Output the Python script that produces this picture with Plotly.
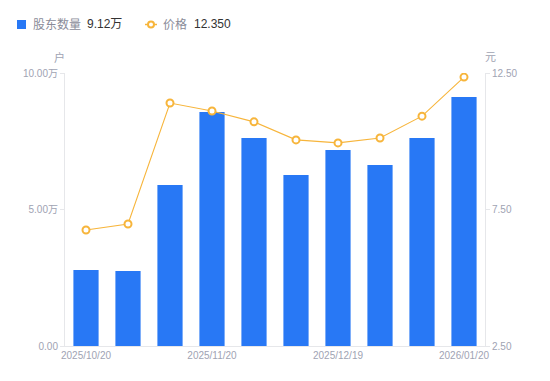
import plotly.graph_objects as go

dates = ["2025/10/20", "2025/10/31", "2025/11/10", "2025/11/20", "2025/11/28",
         "2025/12/10", "2025/12/19", "2025/12/31", "2026/01/09", "2026/01/20"]
holders_wan = [2.78, 2.75, 5.90, 8.57, 7.62, 6.26, 7.18, 6.63, 7.62, 9.12]
price = [6.75, 6.97, 11.40, 11.11, 10.71, 10.05, 9.94, 10.12, 10.92, 12.35]
x_tick_labels = ["2025/10/20", "2025/11/20", "2025/12/19", "2026/01/20"]
left_tickvals = [0, 5, 10]
left_ticktext = ["0.00", "5.00万", "10.00万"]
right_tickvals = [2.5, 7.5, 12.5]
right_ticktext = ["2.50", "7.50", "12.50"]

BLUE = "#2878f5"
ORANGE = "#f7b53b"
GRAY = "#a0a3b3"
LEG_GRAY = "#8a8c99"
DARK = "#333333"
AXIS = "#e6e7ea"
FONT = "Liberation Sans, Arial, Noto Sans CJK SC, sans-serif"

W, H = 550, 381
L, R, T, B = 65, 65, 73, 35
PW, PH = W - L - R, H - T - B


def px(x):
    return (x - L) / PW


def py(y):
    return (H - B - y) / PH


fig = go.Figure()
fig.add_trace(go.Bar(
    x=dates, y=holders_wan, name="股东数量",
    marker=dict(color=BLUE, line=dict(width=0)), width=0.6, yaxis="y",
))
fig.add_trace(go.Scatter(
    x=dates, y=price, name="价格",
    mode="lines+markers", yaxis="y2",
    line=dict(color=ORANGE, width=1.1),
    marker=dict(symbol="circle", size=7, color="white", line=dict(color=ORANGE, width=2)),
))

fig.update_layout(
    width=W, height=H,
    margin=dict(l=L, r=R, t=T, b=B, autoexpand=False),
    paper_bgcolor="white", plot_bgcolor="white",
    font=dict(family=FONT, size=10, color=GRAY),
    showlegend=False,
    bargap=0.4,
    xaxis=dict(type="category", tickmode="array", tickvals=x_tick_labels, ticktext=x_tick_labels,
               range=[-0.5, len(dates) - 0.5],
               showgrid=False, showline=True, linecolor=AXIS, linewidth=1,
               ticks="", tickfont=dict(size=10, color=GRAY), fixedrange=True, automargin=False),
    yaxis=dict(range=[0, 10], tickvals=left_tickvals, ticktext=left_ticktext,
               showgrid=False, showline=True, linecolor=AXIS, linewidth=1,
               ticks="outside", ticklen=4, tickcolor=AXIS, zeroline=False,
               tickfont=dict(size=10, color=GRAY), automargin=False),
    yaxis2=dict(range=[2.5, 12.5], tickvals=right_tickvals, ticktext=right_ticktext,
                overlaying="y", side="right", showgrid=False, showline=True,
                linecolor=AXIS, linewidth=1, ticks="outside", ticklen=4,
                tickcolor=AXIS, zeroline=False, tickfont=dict(size=10, color=GRAY),
                automargin=False),
)

# axis unit labels
fig.add_annotation(text="户", xref="paper", yref="paper", x=px(59), y=py(57),
                   showarrow=False, font=dict(size=11, color=GRAY), xanchor="center", yanchor="middle")
fig.add_annotation(text="元", xref="paper", yref="paper", x=px(490), y=py(57),
                   showarrow=False, font=dict(size=11, color=GRAY), xanchor="center", yanchor="middle")

# custom legend
LY = 24.5
fig.add_shape(type="rect", xref="paper", yref="paper",
              x0=px(17), x1=px(26), y0=py(LY - 4.5), y1=py(LY + 4.5),
              fillcolor=BLUE, line=dict(width=0))
fig.add_annotation(text="股东数量", xref="paper", yref="paper", x=px(31), y=py(LY),
                   showarrow=False, xanchor="left", yanchor="middle",
                   font=dict(size=12, color=LEG_GRAY))
fig.add_annotation(text="%.2f万" % holders_wan[-1], xref="paper", yref="paper", x=px(85), y=py(LY),
                   showarrow=False, xanchor="left", yanchor="middle",
                   font=dict(size=12, color=DARK))
fig.add_shape(type="line", xref="paper", yref="paper",
              x0=px(145), x1=px(157), y0=py(LY), y1=py(LY),
              line=dict(color=ORANGE, width=1.5))
fig.add_shape(type="circle", xref="paper", yref="paper",
              x0=px(148), x1=px(154), y0=py(LY - 3), y1=py(LY + 3),
              fillcolor="white", line=dict(color=ORANGE, width=2))
fig.add_annotation(text="价格", xref="paper", yref="paper", x=px(161), y=py(LY),
                   showarrow=False, xanchor="left", yanchor="middle",
                   font=dict(size=12, color=LEG_GRAY))
fig.add_annotation(text="%.3f" % price[-1], xref="paper", yref="paper", x=px(192), y=py(LY),
                   showarrow=False, xanchor="left", yanchor="middle",
                   font=dict(size=12, color=DARK))

fig.write_html("out.html", config={"displayModeBar": False},
               post_script="document.body.style.margin='0';")
